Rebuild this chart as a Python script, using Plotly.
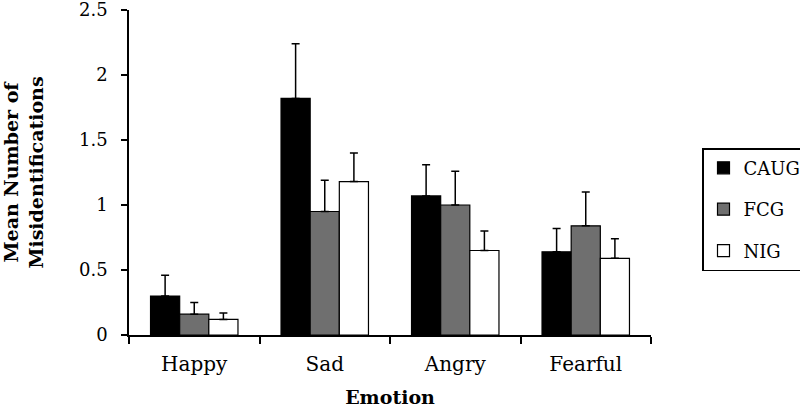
import plotly.graph_objects as go

emotions = ["Happy", "Sad", "Angry", "Fearful"]
groups = ["CAUG", "FCG", "NIG"]
caug = [0.30, 1.82, 1.07, 0.64]
caug_err = [0.16, 0.42, 0.24, 0.18]
fcg = [0.16, 0.95, 1.00, 0.84]
fcg_err = [0.09, 0.24, 0.26, 0.26]
nig = [0.12, 1.18, 0.65, 0.59]
nig_err = [0.05, 0.22, 0.15, 0.15]
colors = ["#000000", "#6f6f6f", "#ffffff"]
y_ticks = [0, 0.5, 1, 1.5, 2, 2.5]
y_ticktext = ["0", "0.5", "1", "1.5", "2", "2.5"]

FONT = "DejaVu Serif, Liberation Serif, serif"

fig = go.Figure()
for name, vals, errs, col in zip(groups, [caug, fcg, nig], [caug_err, fcg_err, nig_err], colors):
    fig.add_trace(go.Bar(
        x=emotions, y=vals, name=name, legendgroup=name,
        marker=dict(color=col, line=dict(color="#000000", width=1.2)),
        error_y=dict(type="data", array=errs, symmetric=False, arrayminus=[0]*len(errs),
                     color="#000000", thickness=1.5, width=4),
    ))

fig.update_layout(
    width=800, height=408,
    margin=dict(l=129, r=149, t=10, b=73, autoexpand=False),
    plot_bgcolor="white", paper_bgcolor="white",
    barmode="group", bargap=0.33, bargroupgap=0,
    font=dict(family=FONT, size=18, color="#000000"),
    showlegend=True,
    legend=dict(xref="container", yref="container", x=0.8775, y=0.637,
                xanchor="left", yanchor="top",
                bordercolor="#000000", borderwidth=1.5, bgcolor="white",
                font=dict(size=18, family=FONT), tracegroupgap=15,
                itemwidth=30),
    xaxis=dict(
        automargin=False,
        showline=True, linecolor="#000000", linewidth=1.5,
        ticks="outside", tickson="boundaries", ticklen=7, tickcolor="#000000", tickwidth=1.5,
        ticklabelstandoff=10,
        tickfont=dict(size=20, family=FONT),
        title=dict(text="<b>Emotion</b>", standoff=16, font=dict(size=19, family=FONT)),
        showgrid=False,
    ),
    yaxis=dict(
        automargin=False,
        range=[0, 2.5], tickmode="array", tickvals=y_ticks, ticktext=y_ticktext,
        ticklabeloverflow="allow",
        showline=True, linecolor="#000000", linewidth=1.5,
        ticks="outside", ticklen=6, tickcolor="#000000", tickwidth=1.5,
        ticklabelstandoff=10,
        tickfont=dict(size=18, family=FONT),
        showgrid=False, zeroline=False,
        title=dict(text="<b>Mean Number of<br>Misidentifications</b>", standoff=36,
                   font=dict(size=19, family=FONT)),
    ),
)

fig.write_html("out.html", config={"displayModeBar": False},
               post_script="document.body.style.margin='0';")
